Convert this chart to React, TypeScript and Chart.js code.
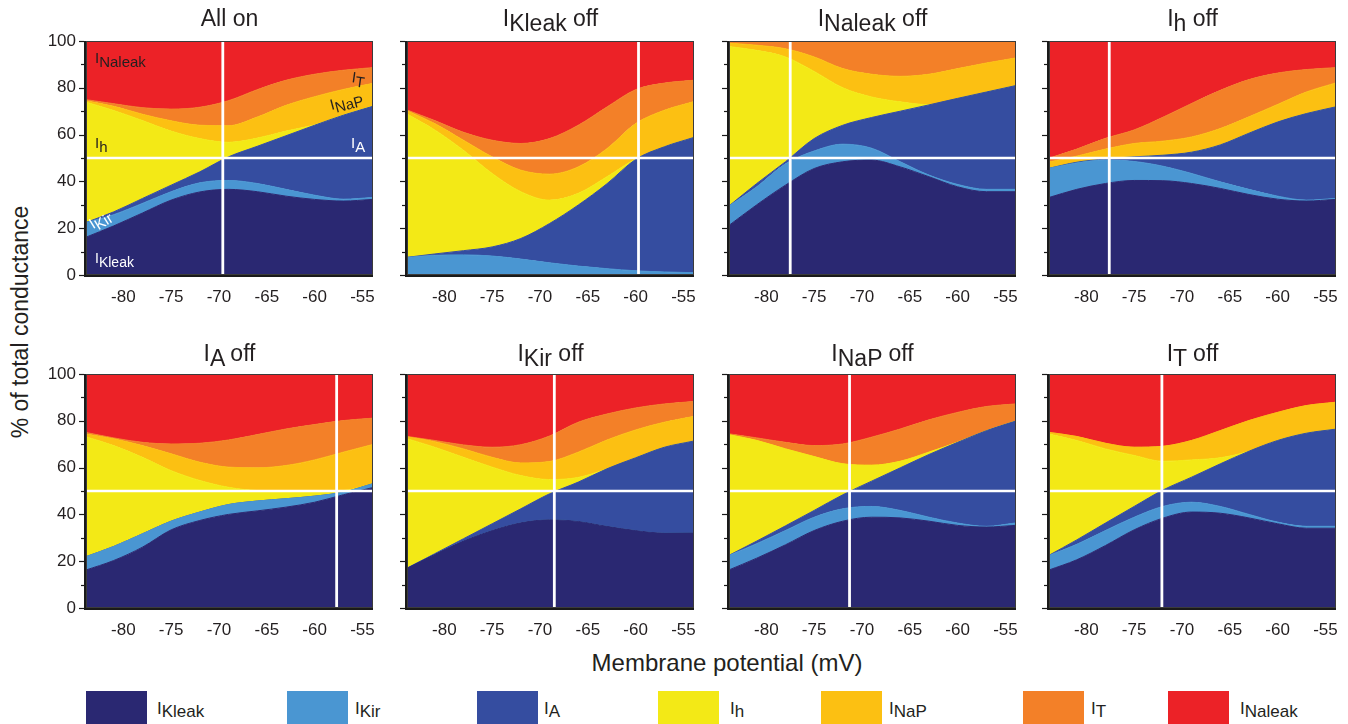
import React, { useEffect, useRef } from 'react';
import { Chart, registerables } from 'chart.js';

Chart.register(...registerables);

const FONT = '"Liberation Sans", Arial, Helvetica, sans-serif';
Chart.defaults.font.family = FONT;

// ---------- data (cumulative upper edge of each stacked conductance, % of total) ----------
const VOLTAGES = [-84, -81, -78, -75, -72, -69, -66, -63, -60, -57, -54];
const X_TICKS = [-80, -75, -70, -65, -60, -55];
const Y_LABEL_TICKS = [0, 20, 40, 60, 80, 100];
const Y_MARKS = [0, 10, 20, 30, 40, 50, 60, 70, 80, 90, 100];
const TOTAL = [100, 100, 100, 100, 100, 100, 100, 100, 100, 100, 100];

const CURRENTS = ['Kleak', 'Kir', 'A', 'h', 'NaP', 'T', 'Naleak'];
const COLORS = ['#2a2872', '#4a96d2', '#354da0', '#f3e916', '#fcc012', '#f38028', '#ec2227'];

// All on
const ALLON_KLEAK = [16, 21, 26.5, 32, 35.5, 36.6, 35.6, 33.7, 32.3, 31.6, 32.3];
const ALLON_KIR = [22.3, 25.8, 30.6, 35.6, 39.4, 40.4, 39.1, 36.6, 34.1, 32.4, 33.1];
const ALLON_A = [22.3, 27, 32.7, 38.4, 44.1, 50.5, 55, 59.5, 64, 68.3, 72];
const ALLON_H = [74, 70.3, 66, 61.5, 58.3, 56.7, 58.5, 61.5, 64.2, 68.4, 72.1];
const ALLON_NAP = [74.5, 72.1, 68.7, 65.9, 64, 63.8, 67.5, 72.5, 76.2, 79.3, 81.8];
const ALLON_T = [75, 73.2, 71.5, 70.9, 71.7, 74.5, 79.2, 83.2, 85.8, 87.5, 88.6];

// IKleak off
const KLEAKOFF_KLEAK = [0, 0, 0, 0, 0, 0, 0, 0, 0, 0, 0];
const KLEAKOFF_KIR = [7.5, 8.4, 8.6, 8.1, 6.8, 5.2, 3.8, 2.7, 1.8, 1.3, 1];
const KLEAKOFF_A = [7.5, 9, 10.4, 12, 15.6, 22, 29.9, 39, 49.4, 54.8, 58.7];
const KLEAKOFF_H = [69, 62, 53.3, 43.4, 35.6, 32, 34.9, 42, 49.6, 54.8, 58.7];
const KLEAKOFF_NAP = [70.4, 64.7, 57.6, 50.5, 44.8, 43.1, 46.2, 54, 64.7, 70.4, 74];
const KLEAKOFF_T = [70.7, 66, 61, 57.6, 56.2, 58.3, 64, 71.8, 79.2, 82, 83.2];

// INaleak off
const NALEAKOFF_KLEAK = [20.9, 30, 38.4, 45.5, 48.4, 49.1, 46.2, 42, 37.7, 35.6, 35.6];
const NALEAKOFF_KIR = [29.2, 37.7, 47.5, 53, 55.9, 54.2, 48.4, 42.7, 38.7, 36.6, 36.6];
const NALEAKOFF_A = [29.2, 39.1, 48.4, 58.3, 64, 67.3, 70, 72.7, 75.5, 78.2, 80.9];
const NALEAKOFF_H = [97.7, 96, 93.2, 87, 80, 76.1, 74, 72.8, 75.5, 78.2, 80.9];
const NALEAKOFF_NAP = [99.1, 98.2, 96.7, 93.2, 88.2, 85.8, 84.9, 85.8, 88.2, 90.6, 92.7];
const NALEAKOFF_T = [100, 100, 100, 100, 100, 100, 100, 100, 100, 100, 100];

// Ih off
const HOFF_KLEAK = [33, 36.6, 39.1, 40.4, 40.3, 39.1, 37, 34.4, 32.4, 31.6, 32.3];
const HOFF_KIR = [45.5, 47.9, 49.1, 48.5, 46.5, 43.4, 39.8, 36.6, 33.7, 32, 32.7];
const HOFF_A = [45.5, 48.2, 49.6, 50.5, 51.2, 52.5, 55.6, 60.6, 65.4, 69, 71.8];
const HOFF_H = [45.5, 48.2, 49.6, 50.5, 51.2, 52.5, 55.6, 60.6, 65.4, 69, 71.8];
const HOFF_NAP = [48.2, 50.8, 53.8, 56.2, 57.2, 59, 62.6, 67.6, 72.9, 78.2, 82];
const HOFF_T = [49.8, 53.8, 58.4, 62, 67.4, 73.3, 78.9, 83.5, 86.3, 87.8, 88.6];

// IA off
const AOFF_KLEAK = [16.1, 20.3, 26, 33.4, 37.4, 40, 41.5, 43.1, 45.2, 48.4, 51.4];
const AOFF_KIR = [21.8, 26.3, 31.7, 37.1, 41, 44.2, 45.7, 46.7, 47.8, 49.5, 53];
const AOFF_A = [21.8, 26.3, 31.7, 37.1, 41, 44.2, 45.7, 46.7, 47.8, 49.5, 53];
const AOFF_H = [73.3, 69.4, 64.4, 58.7, 54.5, 51.6, 50.2, 50, 50, 50.2, 53];
const AOFF_NAP = [74.4, 72.3, 69.4, 65.9, 62.3, 60.2, 59.9, 60.9, 63.3, 66.6, 69.8];
const AOFF_T = [75.1, 72.7, 70.8, 70.1, 70.4, 71.8, 74.1, 76.5, 78.4, 80.1, 81.1];

// IKir off
const KIROFF_KLEAK = [16.8, 22.9, 28.6, 33.1, 36.4, 37.7, 37, 34.9, 33.1, 32, 32.1];
const KIROFF_KIR = [16.8, 22.9, 28.6, 33.1, 36.4, 37.7, 37, 34.9, 33.1, 32, 32.1];
const KIROFF_A = [16.8, 23.2, 29.6, 36, 42.4, 48.8, 53.8, 59.5, 64.2, 68.7, 71.3];
const KIROFF_H = [72.5, 68.7, 64.4, 60.2, 56.6, 54.9, 55.8, 59.5, 64.2, 68.7, 71.3];
const KIROFF_NAP = [73.2, 71.1, 68, 64.4, 62, 62.6, 66.6, 71.8, 76.1, 79.4, 81.8];
const KIROFF_T = [73.4, 71.6, 69.7, 68.7, 69.8, 73.5, 79.4, 82.9, 85.5, 87.2, 88.2];

// INaP off
const NAPOFF_KLEAK = [16.1, 21.3, 27, 33.1, 37.1, 38.8, 38.5, 37.1, 35.3, 34.6, 35.3];
const NAPOFF_KIR = [22.3, 27.5, 33.1, 38.8, 42.4, 43.4, 41.7, 38.8, 36.3, 34.9, 36.3];
const NAPOFF_A = [22.3, 28.6, 35.1, 41.7, 48.4, 54.2, 59.9, 65.6, 70.8, 75.8, 79.8];
const NAPOFF_H = [74.1, 71.6, 68, 64.7, 61.6, 61, 62.7, 66.6, 70.9, 75.8, 79.8];
const NAPOFF_NAP = [74.1, 71.6, 68, 64.7, 61.6, 61, 62.7, 66.6, 70.9, 75.8, 79.8];
const NAPOFF_T = [74.5, 72.7, 70.8, 69.4, 70.1, 73, 76.5, 80.4, 83.6, 86.1, 87.2];

// IT off
const TOFF_KLEAK = [16.1, 20.6, 26.7, 33.4, 38.4, 41, 40.5, 38.5, 36, 34.1, 34.1];
const TOFF_KIR = [22.3, 27.2, 33.1, 38.8, 43.4, 45.2, 43.4, 40, 36.7, 34.9, 34.9];
const TOFF_A = [22.3, 29.1, 36.3, 43.4, 50.4, 55.9, 61.6, 67, 71.6, 74.7, 76.4];
const TOFF_H = [74.4, 71.6, 68, 65.2, 62.7, 63.3, 64.2, 67, 71.6, 74.7, 76.4];
const TOFF_NAP = [75.1, 73.3, 70.4, 68.7, 69.1, 71.6, 75.8, 80.1, 83.6, 86.5, 87.9];
const TOFF_T = [75.1, 73.3, 70.4, 68.7, 69.1, 71.6, 75.8, 80.1, 83.6, 86.5, 87.9];

// panel titles (null = "All on") and the voltage where the white vertical marker sits
const PANEL_OFF = [null, 'Kleak', 'Naleak', 'h', 'A', 'Kir', 'NaP', 'T'];
const CROSS_VOLTAGES = [-69.6, -59.7, -77.5, -77.6, -57.7, -68.5, -71.3, -72.1];

const PANEL_BOUNDARIES = [
  [ALLON_KLEAK, ALLON_KIR, ALLON_A, ALLON_H, ALLON_NAP, ALLON_T, TOTAL],
  [KLEAKOFF_KLEAK, KLEAKOFF_KIR, KLEAKOFF_A, KLEAKOFF_H, KLEAKOFF_NAP, KLEAKOFF_T, TOTAL],
  [NALEAKOFF_KLEAK, NALEAKOFF_KIR, NALEAKOFF_A, NALEAKOFF_H, NALEAKOFF_NAP, NALEAKOFF_T, TOTAL],
  [HOFF_KLEAK, HOFF_KIR, HOFF_A, HOFF_H, HOFF_NAP, HOFF_T, TOTAL],
  [AOFF_KLEAK, AOFF_KIR, AOFF_A, AOFF_H, AOFF_NAP, AOFF_T, TOTAL],
  [KIROFF_KLEAK, KIROFF_KIR, KIROFF_A, KIROFF_H, KIROFF_NAP, KIROFF_T, TOTAL],
  [NAPOFF_KLEAK, NAPOFF_KIR, NAPOFF_A, NAPOFF_H, NAPOFF_NAP, NAPOFF_T, TOTAL],
  [TOFF_KLEAK, TOFF_KIR, TOFF_A, TOFF_H, TOFF_NAP, TOFF_T, TOTAL],
];

// ---------- layout ----------
const PANEL_LEFTS = [86, 407, 729, 1049];
const PANEL_TOPS = [41, 374];
const PLOT_W = 287;
const PLOT_H = 234;
const PAD_L = 50;
const PAD_T = 22;
const PAD_R = 16;
const PAD_B = 40;
const TEXT = '#231f20';

const LEGEND_BOX_X = [86, 287, 477, 658, 821, 1023, 1168];
const LEGEND_TEXT_X = [157, 355, 544, 730, 889, 1091, 1240];

function makeOverlay(cross: number) {
  return {
    id: 'overlay',
    afterDatasetsDraw(chart: any) {
      const { ctx, chartArea: a } = chart;
      const x = chart.scales.x;
      const y = chart.scales.y;
      ctx.save();
      // white reference lines
      ctx.strokeStyle = '#ffffff';
      ctx.lineWidth = 2.6;
      const y50 = y.getPixelForValue(50);
      ctx.beginPath();
      ctx.moveTo(a.left, y50);
      ctx.lineTo(a.right, y50);
      ctx.stroke();
      const xc = x.getPixelForValue(cross);
      ctx.lineWidth = 2.8;
      ctx.beginPath();
      ctx.moveTo(xc, a.top);
      ctx.lineTo(xc, a.bottom);
      ctx.stroke();
      // frame
      ctx.strokeStyle = '#3b3b3b';
      ctx.lineWidth = 1;
      ctx.strokeRect(a.left + 0.5, a.top + 0.5, a.right - a.left - 1, a.bottom - a.top - 1);
      ctx.strokeStyle = '#1a1a1a';
      ctx.lineWidth = 2;
      ctx.beginPath();
      ctx.moveTo(a.left - 1, a.top);
      ctx.lineTo(a.left - 1, a.bottom + 1);
      ctx.lineTo(a.right, a.bottom + 1);
      ctx.stroke();
      // y tick marks
      ctx.lineWidth = 1.2;
      Y_MARKS.forEach((v) => {
        const py = Math.round(y.getPixelForValue(v)) + 0.5;
        const len = v % 20 === 0 ? 5 : 3;
        ctx.beginPath();
        ctx.moveTo(a.left - 2, py);
        ctx.lineTo(a.left - 2 - len, py);
        ctx.stroke();
      });
      ctx.restore();
    },
  };
}

function Panel({ index }: { index: number }) {
  const ref = useRef<HTMLCanvasElement | null>(null);
  const col = index % 4;
  const row = Math.floor(index / 4);
  const left = PANEL_LEFTS[col] - PAD_L;
  const top = PANEL_TOPS[row] - PAD_T;
  const w = PLOT_W + PAD_L + PAD_R;
  const h = PLOT_H + PAD_T + PAD_B;

  useEffect(() => {
    if (!ref.current) return;
    const bounds = PANEL_BOUNDARIES[index];
    const datasets = bounds.map((arr, i) => ({
      label: 'I' + CURRENTS[i],
      data: VOLTAGES.map((v, k) => ({ x: v, y: arr[k] })),
      backgroundColor: COLORS[i],
      borderColor: COLORS[i],
      borderWidth: 1,
      pointRadius: 0,
      pointHoverRadius: 0,
      fill: i === 0 ? 'origin' : '-1',
      cubicInterpolationMode: 'monotone' as const,
    }));
    const chart = new Chart(ref.current, {
      type: 'line',
      data: { datasets },
      options: {
        animation: false,
        responsive: false,
        maintainAspectRatio: false,
        devicePixelRatio: 1,
        events: [],
        layout: { padding: { top: PAD_T, right: PAD_R, left: 0, bottom: 0 } },
        plugins: {
          legend: { display: false },
          tooltip: { enabled: false },
          title: { display: false },
        },
        scales: {
          x: {
            type: 'linear',
            min: -83.9,
            max: -53.9,
            afterFit: (s: any) => {
              s.height = PAD_B;
            },
            afterBuildTicks: (s: any) => {
              s.ticks = X_TICKS.map((v) => ({ value: v }));
            },
            ticks: {
              autoSkip: false,
              maxRotation: 0,
              font: { size: 17, family: FONT },
              color: TEXT,
              padding: 12,
            },
            grid: { display: false, drawTicks: false },
            border: { display: false },
          },
          y: {
            type: 'linear',
            min: 0,
            max: 100,
            afterFit: (s: any) => {
              s.width = PAD_L;
            },
            afterBuildTicks: (s: any) => {
              s.ticks = Y_LABEL_TICKS.map((v) => ({ value: v }));
            },
            ticks: {
              display: col === 0,
              font: { size: 17, family: FONT },
              color: TEXT,
              padding: 10,
            },
            grid: { display: false, drawTicks: false },
            border: { display: false },
          },
        },
      } as any,
      plugins: [makeOverlay(CROSS_VOLTAGES[index])],
    });
    return () => chart.destroy();
  }, [index]);

  return (
    <canvas
      ref={ref}
      width={w}
      height={h}
      style={{ position: 'absolute', left, top, width: w, height: h }}
    />
  );
}

function Cur({ sub, dy, color }: { sub: string; dy: number; color?: string }) {
  return (
    <span style={{ color }}>
      I<span style={{ position: 'relative', top: dy }}>{sub}</span>
    </span>
  );
}

function Label({
  sub,
  left,
  top,
  color,
  size = 15,
  rotate = 0,
}: {
  sub: string;
  left: number;
  top: number;
  color: string;
  size?: number;
  rotate?: number;
}) {
  return (
    <div
      style={{
        position: 'absolute',
        left,
        top,
        fontSize: size,
        lineHeight: `${size}px`,
        whiteSpace: 'nowrap',
        color,
        transform: rotate ? `rotate(${rotate}deg)` : undefined,
        transformOrigin: 'left bottom',
      }}
    >
      <Cur sub={sub} dy={4} />
    </div>
  );
}

export default function App() {
  return (
    <div
      style={{
        position: 'absolute',
        left: 0,
        top: 0,
        width: 1348,
        height: 724,
        overflow: 'hidden',
        background: '#ffffff',
        fontFamily: FONT,
        color: TEXT,
      }}
    >
      {PANEL_OFF.map((_, i) => (
        <Panel key={i} index={i} />
      ))}

      {PANEL_OFF.map((sub, i) => {
        const col = i % 4;
        const row = Math.floor(i / 4);
        return (
          <div
            key={'t' + i}
            style={{
              position: 'absolute',
              left: PANEL_LEFTS[col],
              width: PLOT_W,
              top: row === 0 ? 7 : 342,
              fontSize: 23,
              lineHeight: '23px',
              textAlign: 'center',
              whiteSpace: 'nowrap',
            }}
          >
            {sub === null ? (
              'All on'
            ) : (
              <>
                <Cur sub={sub} dy={5} /> off
              </>
            )}
          </div>
        );
      })}

      {/* in-plot labels of the first panel */}
      <Label sub="Naleak" left={95} top={50} color={TEXT} />
      <Label sub="T" left={351} top={69} color={TEXT} rotate={8} />
      <Label sub="NaP" left={332} top={97} color={TEXT} rotate={-15} />
      <Label sub="h" left={95} top={135} color={TEXT} />
      <Label sub="A" left={351} top={135} color="#ffffff" />
      <Label sub="Kir" left={94} top={216} color="#ffffff" rotate={-32} />
      <Label sub="Kleak" left={95} top={251} color="#ffffff" size={14} />

      {/* axis titles */}
      <div
        style={{
          position: 'absolute',
          left: 20,
          top: 322,
          transform: 'translate(-50%, -50%) rotate(-90deg)',
          fontSize: 23,
          whiteSpace: 'nowrap',
        }}
      >
        % of total conductance
      </div>
      <div
        style={{
          position: 'absolute',
          left: 727,
          top: 663,
          transform: 'translate(-50%, -50%)',
          fontSize: 24,
          whiteSpace: 'nowrap',
        }}
      >
        Membrane potential (mV)
      </div>

      {/* legend */}
      {CURRENTS.map((c, i) => (
        <React.Fragment key={'l' + i}>
          <div
            style={{
              position: 'absolute',
              left: LEGEND_BOX_X[i],
              top: 691,
              width: 61,
              height: 40,
              background: COLORS[i],
            }}
          />
          <div
            style={{
              position: 'absolute',
              left: LEGEND_TEXT_X[i],
              top: 699.5,
              fontSize: 17,
              lineHeight: '17px',
              whiteSpace: 'nowrap',
            }}
          >
            <Cur sub={c} dy={3.5} />
          </div>
        </React.Fragment>
      ))}
    </div>
  );
}
